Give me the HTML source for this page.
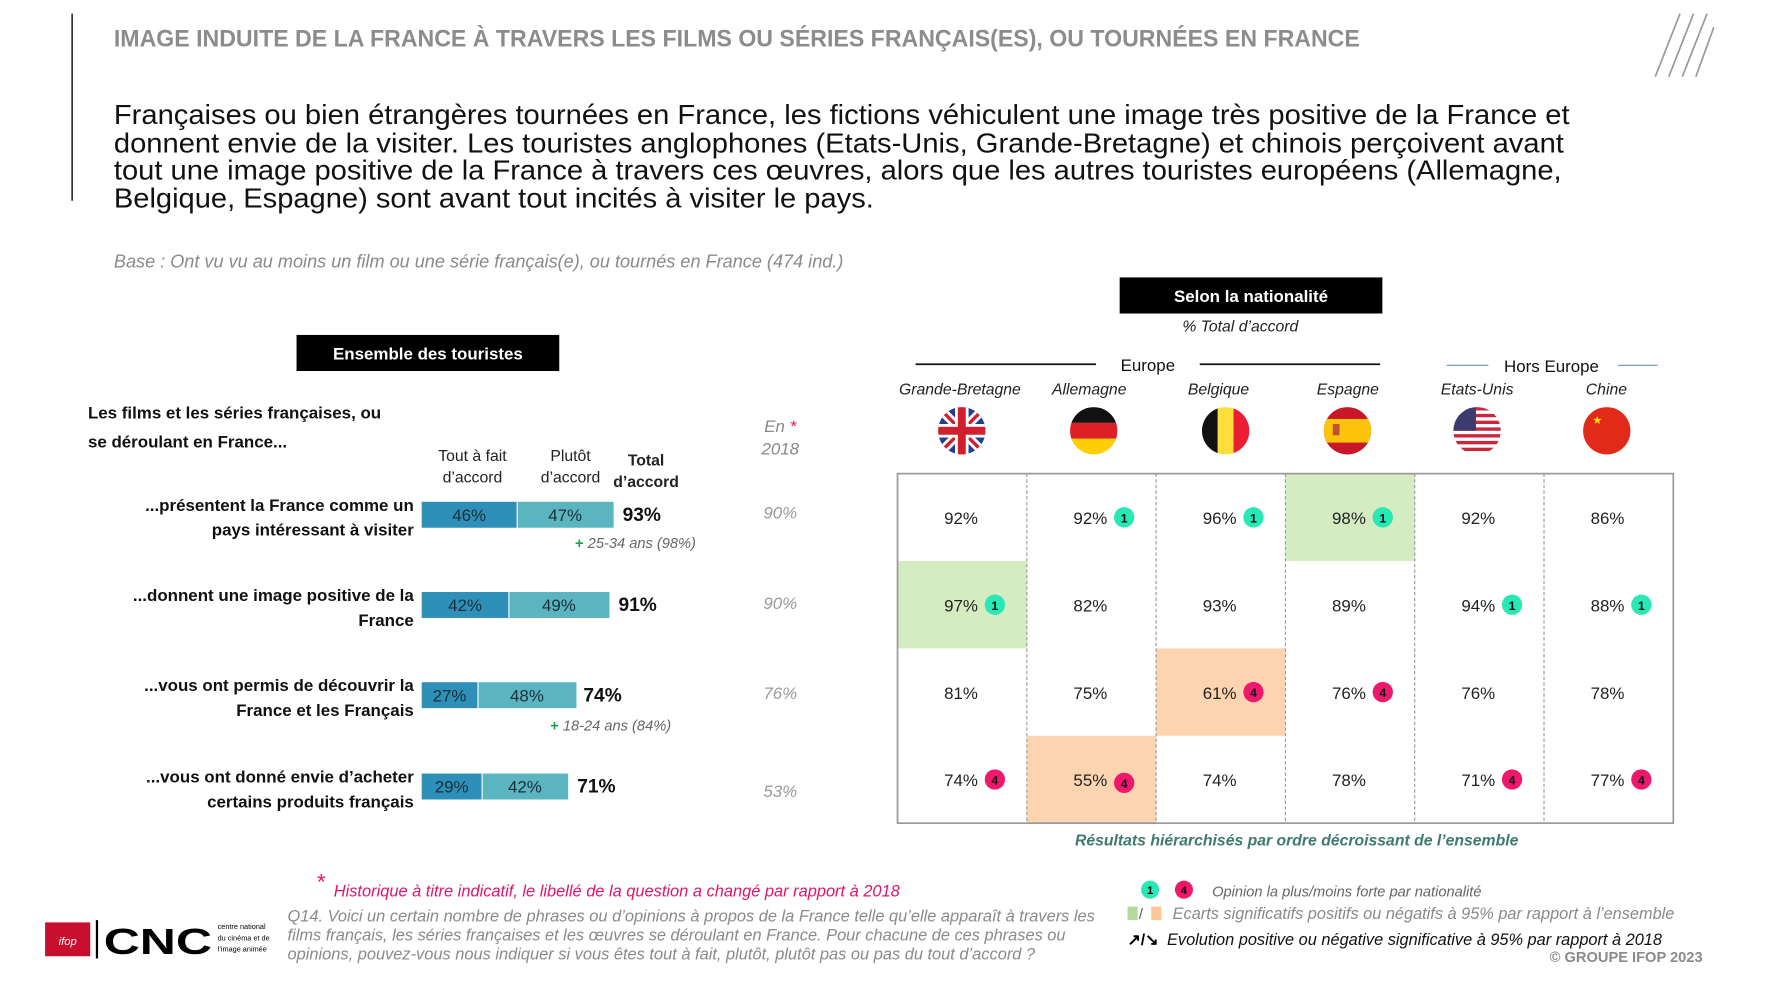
<!DOCTYPE html>
<html><head><meta charset="utf-8">
<style>
html,body{margin:0;padding:0;background:#fff;}
svg{display:block;font-family:"Liberation Sans",sans-serif;}
</style></head>
<body>
<svg id="s" width="1768" height="984" viewBox="0 0 1568 872.6" xmlns="http://www.w3.org/2000/svg">
<line x1="64" y1="12" x2="64" y2="178" stroke="#333" stroke-width="1.5"/>
<text x="101" y="41" font-size="21" font-weight="bold" fill="#8c8c8c" textLength="1105" lengthAdjust="spacingAndGlyphs">IMAGE INDUITE DE LA FRANCE À TRAVERS LES FILMS OU SÉRIES FRANÇAIS(ES), OU TOURNÉES EN FRANCE</text>
<g stroke="#999" stroke-width="1.5">
<line x1="1468" y1="68" x2="1490" y2="12"/><line x1="1480" y1="68" x2="1502" y2="12"/><line x1="1492" y1="68" x2="1514" y2="12"/><line x1="1504" y1="68" x2="1520" y2="24"/>
</g>
<g font-size="25" fill="#111">
<text x="101" y="110" textLength="1291" lengthAdjust="spacingAndGlyphs">Françaises ou bien étrangères tournées en France, les fictions véhiculent une image très positive de la France et</text>
<text x="101" y="135" textLength="1286" lengthAdjust="spacingAndGlyphs">donnent envie de la visiter. Les touristes anglophones (Etats-Unis, Grande-Bretagne) et chinois perçoivent avant</text>
<text x="101" y="159" textLength="1284" lengthAdjust="spacingAndGlyphs">tout une image positive de la France à travers ces œuvres, alors que les autres touristes européens (Allemagne,</text>
<text x="101" y="184" textLength="674" lengthAdjust="spacingAndGlyphs">Belgique, Espagne) sont avant tout incités à visiter le pays.</text>
</g>
<text x="101" y="237" font-size="16" font-style="italic" fill="#8a8a8a" textLength="647" lengthAdjust="spacingAndGlyphs">Base : Ont vu vu au moins un film ou une série français(e), ou tournés en France (474 ind.)</text>

<g>
<rect x="993" y="246" width="233" height="32" fill="#000"/>
<text x="1109.5" y="268" font-size="15" font-weight="bold" fill="#fff" text-anchor="middle">Selon la nationalité</text>
<text x="1100" y="294" font-size="14" font-style="italic" fill="#222" text-anchor="middle">% Total d’accord</text>
</g>
<g>
<rect x="263" y="297" width="233" height="32" fill="#000"/>
<text x="379.5" y="319" font-size="15" font-weight="bold" fill="#fff" text-anchor="middle">Ensemble des touristes</text>
</g>
<g>
<line x1="812" y1="323" x2="972" y2="323" stroke="#111" stroke-width="1.5"/>
<line x1="1064" y1="323" x2="1224" y2="323" stroke="#111" stroke-width="1.5"/>
<text x="1018" y="329" font-size="15" fill="#111" text-anchor="middle">Europe</text>
<line x1="1283" y1="324" x2="1320" y2="324" stroke="#7a9fb0" stroke-width="1.2"/>
<line x1="1435" y1="324" x2="1470" y2="324" stroke="#7a9fb0" stroke-width="1.2"/>
<text x="1376" y="330" font-size="15" fill="#111" text-anchor="middle">Hors Europe</text>
</g>

<g font-size="15" font-weight="bold" fill="#111">
<text x="78" y="371">Les films et les séries françaises, ou</text>
<text x="78" y="397">se déroulant en France...</text>
</g>
<g font-size="14" fill="#222" text-anchor="middle">
<text x="419" y="409">Tout à fait</text><text x="419" y="428">d’accord</text>
<text x="506" y="409">Plutôt</text><text x="506" y="428">d’accord</text>
<text x="573" y="413" font-weight="bold">Total</text><text x="573" y="432" font-weight="bold">d’accord</text>
<text x="692" y="383" font-style="italic" fill="#888" font-size="15">En <tspan fill="#e0156b">*</tspan></text>
<text x="692" y="403" font-style="italic" fill="#888" font-size="15">2018</text>
</g>
<g id="bars"></g>
<g font-size="13" font-style="italic" fill="#666">
<text x="510" y="486"><tspan fill="#1aa34a" font-weight="bold" font-style="normal">+</tspan> 25-34 ans (98%)</text>
<text x="488" y="648"><tspan fill="#1aa34a" font-weight="bold" font-style="normal">+</tspan> 18-24 ans (84%)</text>
</g>

<g id="flags"></g>
<g id="table"></g>
<text x="1150" y="750" font-size="14" font-style="italic" font-weight="bold" fill="#3e7a6e" text-anchor="middle">Résultats hiérarchisés par ordre décroissant de l’ensemble</text>

<g>
<text x="281" y="789" font-size="20" fill="#e0156b">*</text>
<text x="296" y="795" font-size="14.5" font-style="italic" fill="#e0156b" textLength="502" lengthAdjust="spacingAndGlyphs">Historique à titre indicatif, le libellé de la question a changé par rapport à 2018</text>
<g font-size="14.5" font-style="italic" fill="#8a8a8a">
<text x="255" y="817" textLength="716" lengthAdjust="spacingAndGlyphs">Q14. Voici un certain nombre de phrases ou d’opinions à propos de la France telle qu’elle apparaît à travers les</text>
<text x="255" y="834" textLength="690" lengthAdjust="spacingAndGlyphs">films français, les séries françaises et les œuvres se déroulant en France. Pour chacune de ces phrases ou</text>
<text x="255" y="851" textLength="663" lengthAdjust="spacingAndGlyphs">opinions, pouvez-vous nous indiquer si vous êtes tout à fait, plutôt, plutôt pas ou pas du tout d’accord ?</text>
</g>
</g>
<g>
<rect x="40" y="818" width="40" height="30" fill="#c8102e"/>
<text x="60" y="838" font-size="10" fill="#fff" text-anchor="middle" font-style="italic">ifop</text>
<line x1="86" y1="816" x2="86" y2="850" stroke="#000" stroke-width="2"/>
<text x="92" y="846" font-size="32" font-weight="bold" fill="#000" textLength="96" lengthAdjust="spacingAndGlyphs">CNC</text>
<g font-size="6.5" fill="#000"><text x="193" y="824">centre national</text><text x="193" y="834">du cinéma et de</text><text x="193" y="844">l’image animée</text></g>
</g>
<g>
<circle cx="1020" cy="789" r="8" fill="#28e8b5"/><text x="1020" y="793" font-size="10" font-weight="bold" text-anchor="middle">1</text>
<circle cx="1050" cy="789" r="8" fill="#f0186c"/><text x="1050" y="793" font-size="10" font-weight="bold" text-anchor="middle">4</text>
<text x="1075" y="795" font-size="13" font-style="italic" fill="#666">Opinion la plus/moins forte par nationalité</text>
<rect x="1000" y="804" width="9" height="12" fill="#b5d99c"/><text x="1010" y="815" font-size="13" fill="#555">/</text><rect x="1021" y="804" width="9" height="12" fill="#fcc896"/>
<text x="1040" y="815" font-size="14.5" font-style="italic" fill="#8a8a8a" textLength="445" lengthAdjust="spacingAndGlyphs">Ecarts significatifs positifs ou négatifs à 95% par rapport à l’ensemble</text>
<text x="1000" y="838" font-size="14" font-weight="bold" fill="#000">↗/↘</text>
<text x="1035" y="838" font-size="14.5" font-style="italic" fill="#111" textLength="439" lengthAdjust="spacingAndGlyphs">Evolution positive ou négative significative à 95% par rapport à 2018</text>
<text x="1510" y="853" font-size="13" font-weight="bold" fill="#8a8a8a" text-anchor="end">© GROUPE IFOP 2023</text>
</g>
</svg>
<script>
const NS='http://www.w3.org/2000/svg';
// ---- left chart data ----
const itemLine1=['...présentent la France comme un','...donnent une image positive de la','...vous ont permis de découvrir la','...vous ont donné envie d’acheter'];
const itemLine2=['pays intéressant à visiter','France','France et les Français','certains produits français'];
const toutAFait=[46,42,27,29];
const plutot=[47,49,48,42];
const totalAccord=[93,91,74,71];
const en2018=[90,90,76,53];
// ---- right table data ----
const countries=['Grande-Bretagne','Allemagne','Belgique','Espagne','Etats-Unis','Chine'];
const tableValues=[[92,97,81,74],[92,82,75,55],[96,93,61,74],[98,89,76,78],[92,94,76,71],[86,88,78,77]];
const tableBadges=[[0,1,0,4],[1,0,0,4],[1,0,4,0],[1,0,4,0],[0,1,0,4],[0,1,0,4]];
const tableShade=[['','g','',''],['','','','o'],['','','o',''],['g','','',''],['','','',''],['','','','']];

function el(tag,attrs,parent,txt){const e=document.createElementNS(NS,tag);for(const k in attrs)e.setAttribute(k,attrs[k]);if(txt!==undefined)e.textContent=txt;parent.appendChild(e);return e;}
const x0=374, pxPer=1.83;
const xs=v=>v*pxPer;
const rowY=[456,536,616,697];
const bars=document.getElementById('bars');


for(let i=0;i<toutAFait.length;i++){
  const y=rowY[i];
  const g=el('g',{},bars);
  
  
  const l1=el('text',{x:367,y:y-3,'font-size':15,'font-weight':'bold','text-anchor':'end',fill:'#111'},g,itemLine1[i]);
  
  
  el('text',{x:367,y:y+19,'font-size':15,'font-weight':'bold','text-anchor':'end',fill:'#111'},g,itemLine2[i]);
  const w1=xs(toutAFait[i]), w2=xs(plutot[i]);
  const b1=el('rect',{x:x0,y:y-11,width:w1,height:23,fill:'#2e8fb8'},g);
  
  
  const b2=el('rect',{x:x0+w1+1,y:y-11,width:w2-1,height:23,fill:'#5ab5c0'},g);
  
  
  el('text',{x:x0+w1/2,y:y+6,'font-size':15,'text-anchor':'middle',fill:'#1a2e3a'},g,toutAFait[i]+'%');
  el('text',{x:x0+w1+w2/2,y:y+6,'font-size':15,'text-anchor':'middle',fill:'#1a2e3a'},g,plutot[i]+'%');
  el('text',{x:x0+xs(totalAccord[i])+8,y:y+6,'font-size':17,'font-weight':'bold',fill:'#111'},g,totalAccord[i]+'%');
  el('text',{x:692,y:y+(i===3?10:4),'font-size':15,'font-style':'italic','text-anchor':'middle',fill:'#999'},g,en2018[i]+'%');
}
// ---- table ----
const tx=796, ty=420, cw=114.67, rh=77.5;
const table=document.getElementById('table');


const shadeCol={g:'#d5ecc2',o:'#fcd5b0'};
for(let c=0;c<countries.length;c++){
  for(let r=0;r<4;r++){
    const s=tableShade[c][r];
    if(s){const rc=el('rect',{x:tx+c*cw,y:ty+r*rh,width:cw,height:rh,fill:shadeCol[s]},table);
      
      }
  }
}
for(let c=1;c<countries.length;c++){
  el('line',{x1:tx+c*cw,y1:ty,x2:tx+c*cw,y2:ty+4*rh,stroke:'#999','stroke-dasharray':'3,2','stroke-width':1},table);
}
el('rect',{x:tx,y:ty,width:cw*6,height:rh*4,fill:'none',stroke:'#999','stroke-width':1.5},table);
for(let c=0;c<countries.length;c++){
  const cx=tx+c*cw+cw/2-2;
  const hn=el('text',{x:cx,y:350,'font-size':14,'font-style':'italic','text-anchor':'middle',fill:'#222'},table,countries[c]);
  
  
  for(let r=0;r<4;r++){
    const cy=ty+r*rh+rh/2;
    const t=el('text',{x:cx+1,y:cy+6,'font-size':15,'text-anchor':'middle',fill:'#222'},table,tableValues[c][r]+'%');
    
    
    const b=tableBadges[c][r];
    if(b){
      const bx=cx+31, by=cy+(c===1&&r===3?3:0);
      const ci=el('circle',{cx:bx,cy:by,r:9,fill:b===1?'#28e8b5':'#f0186c'},table);
      
      
      el('text',{x:bx,y:by+4.5,'font-size':11,'font-weight':'bold','text-anchor':'middle',fill:'#111'},table,String(b));
    }
  }
}
// ---- flags ----
const fl=document.getElementById('flags');
const defs=el('defs',{},fl);
const flagCx=[853,970,1087,1195,1310,1425];
flagCx.forEach((x,i)=>{
  const cp=el('clipPath',{id:'c'+i},defs);
  el('circle',{cx:x,cy:382,r:21},cp);
  const g=el('g',{'clip-path':'url(#c'+i+')'},fl);
  const L=x-21,T=361,W=42;
  if(i===0){el('rect',{x:L,y:T,width:W,height:W,fill:'#1f3f8f'},g);
    el('path',{d:`M${L} ${T}L${L+W} ${T+W}M${L+W} ${T}L${L} ${T+W}`,stroke:'#fff','stroke-width':8},g);
    el('path',{d:`M${L} ${T}L${L+W} ${T+W}M${L+W} ${T}L${L} ${T+W}`,stroke:'#d0202e','stroke-width':3},g);
    el('rect',{x:x-6,y:T,width:12,height:W,fill:'#fff'},g);el('rect',{x:L,y:376,width:W,height:12,fill:'#fff'},g);
    el('rect',{x:x-3.5,y:T,width:7,height:W,fill:'#d0202e'},g);el('rect',{x:L,y:378.5,width:W,height:7,fill:'#d0202e'},g);}
  if(i===1){['#111','#dd1f26','#ffce00'].forEach((c,k)=>el('rect',{x:L,y:T+k*14,width:W,height:14,fill:c},g));}
  if(i===2){['#111','#fcdd3c','#ea1f34'].forEach((c,k)=>el('rect',{x:L+k*14,y:T,width:14,height:W,fill:c},g));}
  if(i===3){el('rect',{x:L,y:T,width:W,height:W,fill:'#c8172a'},g);el('rect',{x:L,y:T+10.5,width:W,height:21,fill:'#fcc30b'},g);el('rect',{x:x-13,y:376,width:6,height:10,fill:'#c0502e'},g);}
  if(i===4){for(let k=0;k<7;k++)el('rect',{x:L,y:T+k*6,width:W,height:3,fill:'#c8283c'},g);el('rect',{x:L,y:T,width:20,height:21,fill:'#3c3b6e'},g);}
  if(i===5){el('rect',{x:L,y:T,width:W,height:W,fill:'#e22a18'},g);el('text',{x:x-13,y:376,'font-size':10,fill:'#ffde00'},g,'★');}
});
</script>
</body></html>
